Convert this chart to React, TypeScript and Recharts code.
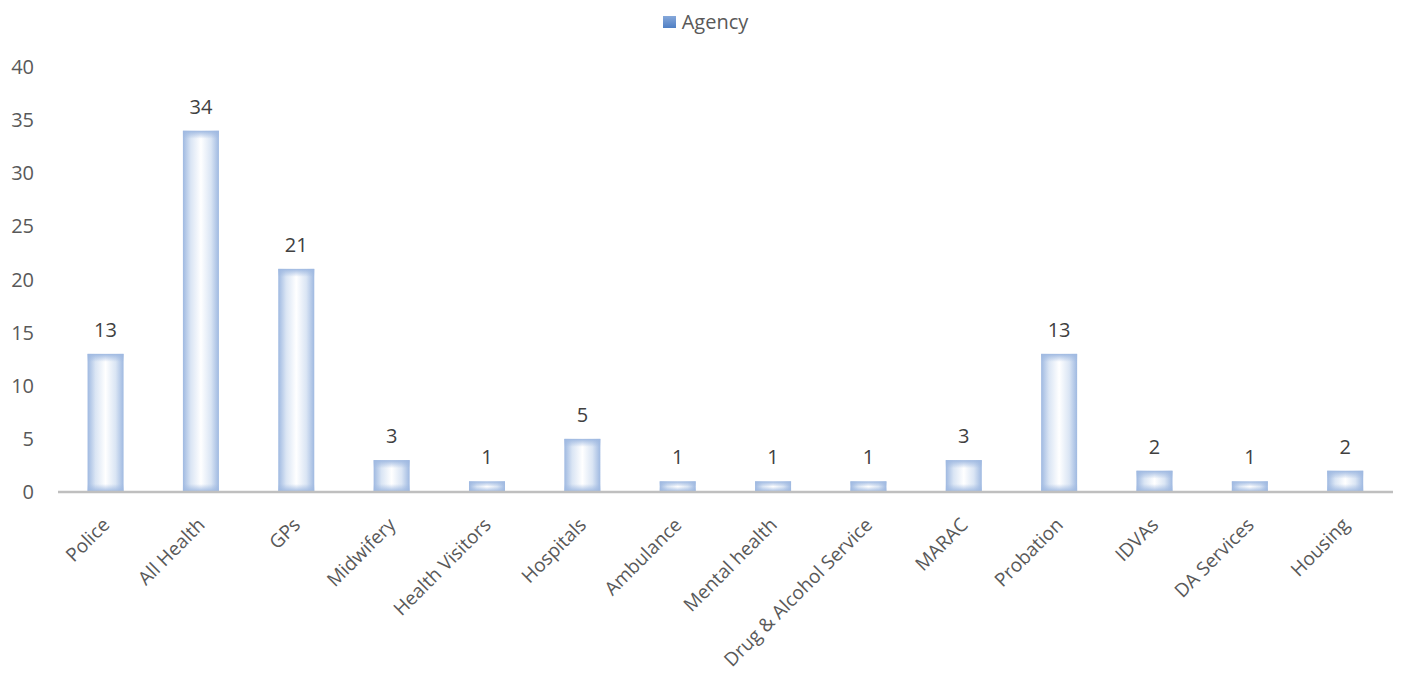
import { BarChart, Bar, XAxis, YAxis, LabelList } from "recharts";

const agencies = [
  "Police",
  "All Health",
  "GPs",
  "Midwifery",
  "Health Visitors",
  "Hospitals",
  "Ambulance",
  "Mental health",
  "Drug & Alcohol Service",
  "MARAC",
  "Probation",
  "IDVAs",
  "DA Services",
  "Housing",
];
const counts = [13, 34, 21, 3, 1, 5, 1, 1, 1, 3, 13, 2, 1, 2];
const yTicks = [0, 5, 10, 15, 20, 25, 30, 35, 40];

const data = agencies.map((name, i) => ({ name, Agency: counts[i] }));

const FONT = "'Open Sans', 'Liberation Sans', sans-serif";
const EDGE = "#9fb9e1";

const GlowBar = (props: any) => {
  const { x, y, width, height } = props;
  if (!height || height <= 0) return null;
  const edge = Math.min(8, height / 2);
  return (
    <g>
      <rect x={x} y={y} width={width} height={height} fill="url(#barH)" />
      <rect x={x} y={y} width={width} height={edge} fill="url(#barTop)" />
      <rect x={x} y={y + height - edge} width={width} height={edge} fill="url(#barBottom)" />
    </g>
  );
};

const AngleTick = (props: any) => {
  const { x, y, payload } = props;
  return (
    <g transform={`translate(${x - 2},${y + 19})`}>
      <text
        x={0}
        y={0}
        dy={10}
        textAnchor="end"
        transform="rotate(-45)"
        fill="#595959"
        fontSize={19}
        fontFamily={FONT}
      >
        {payload.value}
      </text>
    </g>
  );
};

export default function App() {
  return (
    <div style={{ position: "absolute", left: 0, top: 0, width: 1411, height: 679, background: "#fff" }}>
      <div
        style={{
          position: "absolute",
          top: 8,
          left: 0,
          width: 1411,
          display: "flex",
          justifyContent: "center",
          alignItems: "center",
          fontFamily: FONT,
          fontSize: 20,
          color: "#595959",
        }}
      >
        <span
          style={{
            display: "inline-block",
            width: 13,
            height: 12,
            marginRight: 6,
            background: "linear-gradient(#86a8da, #4f7fc4)",
          }}
        />
        Agency
      </div>
      <BarChart
        width={1411}
        height={679}
        data={data}
        margin={{ top: 67, right: 18, bottom: 7, left: 0 }}
        barCategoryGap="31%"
      >
        <defs>
          <linearGradient id="barH" x1="0" y1="0" x2="1" y2="0">
            <stop offset="0%" stopColor={EDGE} />
            <stop offset="22%" stopColor="#dae5f4" />
            <stop offset="50%" stopColor="#ffffff" />
            <stop offset="78%" stopColor="#dae5f4" />
            <stop offset="100%" stopColor={EDGE} />
          </linearGradient>
          <linearGradient id="barTop" x1="0" y1="0" x2="0" y2="1">
            <stop offset="0%" stopColor={EDGE} stopOpacity={1} />
            <stop offset="100%" stopColor={EDGE} stopOpacity={0} />
          </linearGradient>
          <linearGradient id="barBottom" x1="0" y1="0" x2="0" y2="1">
            <stop offset="0%" stopColor={EDGE} stopOpacity={0} />
            <stop offset="100%" stopColor={EDGE} stopOpacity={1} />
          </linearGradient>
        </defs>
        <XAxis
          dataKey="name"
          interval={0}
          height={180}
          tick={<AngleTick />}
          tickLine={false}
          axisLine={{ stroke: "#bfbfbf", strokeWidth: 2.5 }}
        />
        <YAxis
          width={58}
          domain={[0, 40]}
          ticks={yTicks}
          axisLine={false}
          tickLine={false}
          tick={{ fill: "#595959", fontSize: 20, fontFamily: FONT, textAnchor: "end", dx: -16 } as any}
        />
        <Bar dataKey="Agency" shape={<GlowBar />} isAnimationActive={false}>
          <LabelList
            dataKey="Agency"
            position="top"
            offset={17}
            fill="#404040"
            fontSize={20}
            fontFamily={FONT}
          />
        </Bar>
      </BarChart>
    </div>
  );
}
